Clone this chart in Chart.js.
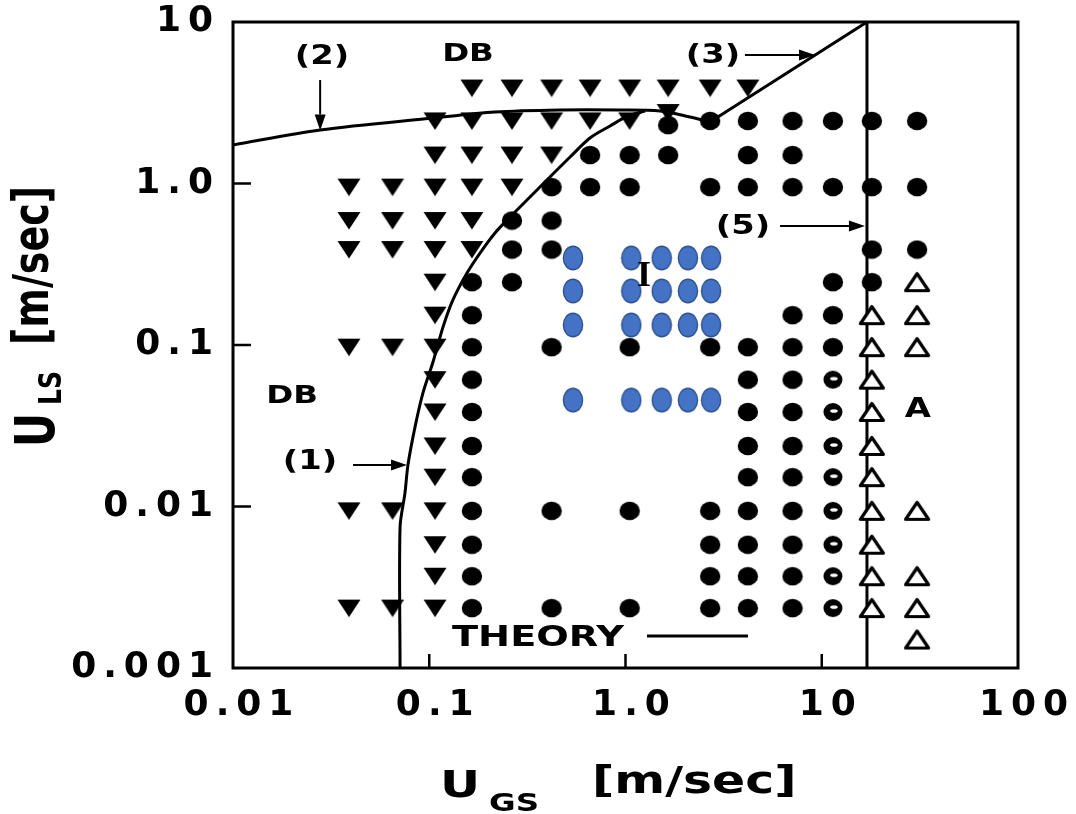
<!DOCTYPE html>
<html>
<head>
<meta charset="utf-8">
<script src="https://cdn.jsdelivr.net/npm/chart.js@4.4.0/dist/chart.umd.min.js"></script>
<style>
  html, body { margin: 0; padding: 0; background: #fff; }
  #wrap { width: 1076px; height: 814px; }
</style>
</head>
<body>
<div id="wrap"><canvas id="map" width="1076" height="814"></canvas></div>
<script>
// ---- Axis ticks ----
const xTickValues = [0.01, 0.1, 1, 10, 100];
const xTickLabels = ['0.01', '0.1', '1.0', '10', '100'];
const yTickValues = [0.001, 0.01, 0.1, 1, 10];
const yTickLabels = ['0.001', '0.01', '0.1', '1.0', '10'];

// ---- Observed flow patterns [U_GS, U_LS] in m/sec ----
// Dispersed bubble (filled, pointing down)
const dispersedBubble = [
  [0.039, 0.95], [0.039, 0.59], [0.039, 0.39], [0.039, 0.097], [0.039, 0.0094], [0.039, 0.00235],
  [0.065, 0.95], [0.065, 0.59], [0.065, 0.39], [0.065, 0.097], [0.065, 0.0094], [0.065, 0.00235],
  [0.107, 2.44], [0.107, 1.5], [0.107, 0.95], [0.107, 0.59], [0.107, 0.39], [0.107, 0.245],
  [0.107, 0.153], [0.107, 0.097], [0.107, 0.061], [0.107, 0.0385], [0.107, 0.0237], [0.107, 0.0152],
  [0.107, 0.0094], [0.107, 0.0058], [0.107, 0.0037], [0.107, 0.00235],
  [0.165, 3.9], [0.165, 2.44], [0.165, 1.5], [0.165, 0.95], [0.165, 0.59], [0.165, 0.39],
  [0.264, 3.9], [0.264, 2.44], [0.264, 1.5], [0.264, 0.95],
  [0.42, 3.9], [0.42, 2.44], [0.42, 1.5],
  [0.66, 3.9], [0.66, 2.44],
  [1.05, 3.9], [1.05, 2.44],
  [1.65, 3.9], [1.65, 2.75],
  [2.7, 3.9], [4.2, 3.9]
];
// Slug / churn (filled circles)
const slugChurn = [
  [0.165, 0.245], [0.165, 0.153], [0.165, 0.097], [0.165, 0.061], [0.165, 0.0385], [0.165, 0.0237],
  [0.165, 0.0152], [0.165, 0.0094], [0.165, 0.0058], [0.165, 0.0037], [0.165, 0.00235],
  [0.264, 0.59], [0.264, 0.39], [0.264, 0.245],
  [0.42, 0.95], [0.42, 0.59], [0.42, 0.39], [0.42, 0.097], [0.42, 0.0094], [0.42, 0.00235],
  [0.66, 1.5], [0.66, 0.95],
  [1.05, 1.5], [1.05, 0.95], [1.05, 0.097], [1.05, 0.0094], [1.05, 0.00235],
  [1.65, 2.3], [1.65, 1.5],
  [2.7, 2.44], [2.7, 0.95], [2.7, 0.097], [2.7, 0.0094], [2.7, 0.0058], [2.7, 0.0037], [2.7, 0.00235],
  [4.2, 2.44], [4.2, 1.5], [4.2, 0.95], [4.2, 0.097], [4.2, 0.061], [4.2, 0.0385], [4.2, 0.0237],
  [4.2, 0.0152], [4.2, 0.0094], [4.2, 0.0058], [4.2, 0.0037], [4.2, 0.00235],
  [7.1, 2.44], [7.1, 1.5], [7.1, 0.95], [7.1, 0.153], [7.1, 0.097], [7.1, 0.061], [7.1, 0.0385],
  [7.1, 0.0237], [7.1, 0.0152], [7.1, 0.0094], [7.1, 0.0058], [7.1, 0.0037], [7.1, 0.00235],
  [11.4, 2.44], [11.4, 0.95], [11.4, 0.245], [11.4, 0.153], [11.4, 0.097],
  [18, 2.44], [18, 0.95], [18, 0.39], [18, 0.245],
  [30.6, 2.44], [30.6, 0.95], [30.6, 0.39]
];
// Transitional (partly filled circles)
const transitional = [
  [11.4, 0.061], [11.4, 0.0385], [11.4, 0.0237], [11.4, 0.0152],
  [11.4, 0.0094], [11.4, 0.0058], [11.4, 0.0037], [11.4, 0.00235]
];
// Annular (open triangles)
const annular = [
  [18, 0.153], [18, 0.097], [18, 0.061], [18, 0.0385], [18, 0.0237], [18, 0.0152],
  [18, 0.0094], [18, 0.0058], [18, 0.0037], [18, 0.00235],
  [30.6, 0.245], [30.6, 0.153], [30.6, 0.097], [30.6, 0.0094], [30.6, 0.0037], [30.6, 0.00235], [30.6, 0.0015]
];
// Intermittent runs (blue)
const intermittent = [
  [0.54, 0.346], [1.07, 0.346], [1.53, 0.346], [2.08, 0.346], [2.73, 0.346],
  [0.54, 0.216], [1.07, 0.216], [1.53, 0.216], [2.08, 0.216], [2.73, 0.216],
  [0.54, 0.133], [1.07, 0.133], [1.53, 0.133], [2.08, 0.133], [2.73, 0.133],
  [0.54, 0.0456], [1.07, 0.0456], [1.53, 0.0456], [2.08, 0.0456], [2.73, 0.0456]
];

// ---- Theoretical transition boundaries ----
const boundary1 = [
  [0.071, 0.001], [0.071, 0.00746], [0.0752, 0.0121], [0.0779, 0.0181], [0.0846, 0.031],
  [0.0929, 0.0505], [0.1045, 0.0785], [0.1175, 0.129], [0.132, 0.19], [0.1557, 0.279],
  [0.1814, 0.371], [0.2163, 0.494], [0.258, 0.62], [0.326, 0.825], [0.412, 1.097],
  [0.522, 1.459], [0.659, 1.913], [0.834, 2.27], [1.03, 2.62], [1.257, 2.81]
];
const boundary2 = [
  [0.01, 1.731], [0.0278, 2.145], [0.1045, 2.544], [0.2163, 2.771], [0.4637, 2.852],
  [0.9376, 2.852], [1.499, 2.81], [2.132, 2.58], [2.695, 2.403]
];
const boundary3 = [[2.695, 2.403], [17.0, 10]];
const boundary5 = [[17.0, 10], [17.0, 0.001]];

// ---- Labels placed in data space ----
const labelNotes = [
  { text: '(2)', x: 0.0284, y: 6.07, size: 26 },
  { text: 'DB', x: 0.1576, y: 6.25, size: 25 },
  { text: '(3)', x: 2.79, y: 6.16, size: 26 },
  { text: '(5)', x: 3.97, y: 0.538, size: 26 },
  { text: '(1)', x: 0.0247, y: 0.0189, size: 26 },
  { text: 'DB', x: 0.02, y: 0.0477, size: 25 },
  { text: 'A', x: 30.9, y: 0.0396, size: 26 }
];
const arrowNotes = [
  { from: [0.0278, 4.37], to: [0.0278, 2.13] },
  { from: [4.06, 6.25], to: [9.24, 6.25] },
  { from: [6.13, 0.546], to: [16.6, 0.546] },
  { from: [0.0409, 0.0181], to: [0.077, 0.0181] }
];
const theoryKey = { text: 'THEORY', x: 0.1306, y: 0.00153, lineFrom: 1.287, lineTo: 4.21, lineY: 0.00158 };
const regimeMark = { text: 'I', x: 1.243, y: 0.2636 };

// ---- Marker images ----
function markerCanvas(w, h, paint) {
  const c = document.createElement('canvas');
  c.width = w; c.height = h;
  paint(c.getContext('2d'), w, h);
  return c;
}
const downTriangle = markerCanvas(24, 19, (g, w, h) => {
  g.fillStyle = '#000';
  g.beginPath(); g.moveTo(0.5, 1); g.lineTo(w - 0.5, 1); g.lineTo(w / 2, h - 0.5); g.closePath(); g.fill();
});
const fullDot = markerCanvas(22, 20, (g, w, h) => {
  g.fillStyle = '#000';
  g.beginPath(); g.ellipse(w / 2, h / 2, 10.2, 9.2, 0, 0, Math.PI * 2); g.fill();
});
const partDot = markerCanvas(22, 20, (g, w, h) => {
  g.fillStyle = '#000';
  g.beginPath(); g.ellipse(w / 2, h / 2, 9.5, 9, 0, 0, Math.PI * 2); g.fill();
  g.fillStyle = '#fff';
  g.beginPath(); g.ellipse(w / 2 + 1, h / 2 - 1, 3.8, 1.8, 0, 0, Math.PI * 2); g.fill();
});
const openTriangle = markerCanvas(28, 22, (g, w, h) => {
  g.strokeStyle = '#000'; g.fillStyle = '#fff'; g.lineWidth = 3.2; g.lineJoin = 'round';
  g.beginPath(); g.moveTo(w / 2, 2.5); g.lineTo(w - 2.5, h - 2.5); g.lineTo(2.5, h - 2.5); g.closePath();
  g.fill(); g.stroke();
});
const blueOval = markerCanvas(22, 26, (g, w, h) => {
  g.fillStyle = '#4472C4'; g.strokeStyle = '#2F528F'; g.lineWidth = 1.4;
  g.beginPath(); g.ellipse(w / 2, h / 2, 9.6, 11.8, 0, 0, Math.PI * 2); g.fill(); g.stroke();
});

const FONT = '"DejaVu Sans", sans-serif';
const toXY = arr => arr.map(([x, y]) => ({ x, y }));

function pointSet(label, data, img) {
  return { label, data: toXY(data), pointStyle: img, pointRadius: 10, pointHoverRadius: 10, showLine: false };
}
function lineSet(label, data, tension) {
  return { label, data: toXY(data), showLine: true, pointRadius: 0, borderColor: '#000', borderWidth: 3, tension, fill: false };
}

function drawText(ctx, str, x, y, o) {
  ctx.save();
  ctx.translate(x, y);
  ctx.scale(o.stretch || 1, 1);
  if (o.rotate) ctx.rotate(o.rotate);
  ctx.font = (o.weight || 'bold') + ' ' + o.size + 'px ' + (o.family || FONT);
  ctx.textAlign = o.align || 'center';
  ctx.textBaseline = o.baseline || 'middle';
  ctx.fillStyle = '#000';
  ctx.fillText(str, 0, 0);
  ctx.restore();
}
function drawArrow(ctx, x0, y0, x1, y1) {
  const ang = Math.atan2(y1 - y0, x1 - x0), len = 16, half = 5.5;
  const bx = x1 - Math.cos(ang) * len, by = y1 - Math.sin(ang) * len;
  ctx.save();
  ctx.strokeStyle = '#000'; ctx.fillStyle = '#000'; ctx.lineWidth = 2;
  ctx.beginPath(); ctx.moveTo(x0, y0); ctx.lineTo(bx, by); ctx.stroke();
  ctx.beginPath();
  ctx.moveTo(x1, y1);
  ctx.lineTo(bx + Math.sin(ang) * half, by - Math.cos(ang) * half);
  ctx.lineTo(bx - Math.sin(ang) * half, by + Math.cos(ang) * half);
  ctx.closePath(); ctx.fill();
  ctx.restore();
}

// Wide tick lettering while the axes paint, plain afterwards
const tickSpacing = {
  id: 'tickSpacing',
  beforeDraw(chart) { chart.ctx.letterSpacing = '7px'; },
  beforeDatasetsDraw(chart) { chart.ctx.letterSpacing = '0px'; }
};

// Frame, inward tick marks, titles and notes
const decorations = {
  id: 'decorations',
  afterDraw(chart) {
    const ctx = chart.ctx, a = chart.chartArea, sx = chart.scales.x, sy = chart.scales.y;
    const px = v => sx.getPixelForValue(v), py = v => sy.getPixelForValue(v);
    ctx.save();
    ctx.letterSpacing = '0px';
    ctx.strokeStyle = '#000';
    ctx.lineWidth = 3;
    ctx.strokeRect(a.left, a.top, a.right - a.left, a.bottom - a.top);
    ctx.lineWidth = 2.5;
    xTickValues.slice(1, -1).forEach(v => {
      ctx.beginPath(); ctx.moveTo(px(v), a.bottom); ctx.lineTo(px(v), a.bottom - 14); ctx.stroke();
    });
    yTickValues.slice(1, -1).forEach(v => {
      ctx.beginPath(); ctx.moveTo(a.left, py(v)); ctx.lineTo(a.left + 18, py(v)); ctx.stroke();
    });

    labelNotes.forEach(n => drawText(ctx, n.text, px(n.x), py(n.y), { size: n.size, stretch: 1.3 }));
    arrowNotes.forEach(n => drawArrow(ctx, px(n.from[0]), py(n.from[1]), px(n.to[0]), py(n.to[1])));

    drawText(ctx, theoryKey.text, px(theoryKey.x), py(theoryKey.y), { size: 29, stretch: 1.32, align: 'left' });
    ctx.lineWidth = 3;
    ctx.beginPath();
    ctx.moveTo(px(theoryKey.lineFrom), py(theoryKey.lineY));
    ctx.lineTo(px(theoryKey.lineTo), py(theoryKey.lineY));
    ctx.stroke();

    drawText(ctx, regimeMark.text, px(regimeMark.x), py(regimeMark.y),
      { size: 36, family: '"Liberation Serif", serif', weight: 'bold' });

    // horizontal axis title
    drawText(ctx, 'U', 440, 797, { size: 38, stretch: 1.3, align: 'left', baseline: 'alphabetic' });
    drawText(ctx, 'GS', 489, 811, { size: 25, stretch: 1.3, align: 'left', baseline: 'alphabetic' });
    drawText(ctx, '[m/sec]', 592, 793, { size: 37, stretch: 1.32, align: 'left', baseline: 'alphabetic' });

    // vertical axis title
    const rot = -Math.PI / 2;
    drawText(ctx, 'U', 54, 447, { size: 42, stretch: 1.3, rotate: rot, align: 'left', baseline: 'alphabetic' });
    drawText(ctx, 'LS', 61, 405, { size: 25, stretch: 1.3, rotate: rot, align: 'left', baseline: 'alphabetic' });
    drawText(ctx, '[m/sec]', 48, 345, { size: 38, stretch: 1.3, rotate: rot, align: 'left', baseline: 'alphabetic' });
    ctx.restore();
  }
};

const tickFont = { family: FONT, size: 36, weight: 'bold' };

new Chart(document.getElementById('map'), {
  type: 'scatter',
  data: {
    datasets: [
      pointSet('Intermittent', intermittent, blueOval),
      pointSet('Dispersed bubble', dispersedBubble, downTriangle),
      pointSet('Slug / churn', slugChurn, fullDot),
      pointSet('Transition', transitional, partDot),
      pointSet('Annular', annular, openTriangle),
      lineSet('(1)', boundary1, 0.3),
      lineSet('(2)', boundary2, 0.3),
      lineSet('(3)', boundary3, 0),
      lineSet('(5)', boundary5, 0)
    ]
  },
  options: {
    responsive: false,
    devicePixelRatio: 1,
    animation: false,
    events: [],
    layout: { padding: { top: 22, right: 58, left: 0, bottom: 0 } },
    plugins: { legend: { display: false }, tooltip: { enabled: false } },
    scales: {
      x: {
        type: 'logarithmic', position: 'bottom', min: 0.01, max: 100,
        grid: { display: false, drawTicks: false },
        border: { display: false },
        afterBuildTicks: s => { s.ticks = xTickValues.map(v => ({ value: v })); },
        afterFit: s => { s.height = 146; s.paddingLeft = 0; s.paddingRight = 0; },
        ticks: {
          autoSkip: false, maxRotation: 0, minRotation: 0, padding: 16, labelOffset: 9,
          color: '#000', font: tickFont,
          callback: (v, i) => xTickLabels[i]
        }
      },
      y: {
        type: 'logarithmic', position: 'left', min: 0.001, max: 10,
        grid: { display: false, drawTicks: false },
        border: { display: false },
        afterBuildTicks: s => { s.ticks = yTickValues.map(v => ({ value: v })); },
        afterFit: s => { s.width = 233; s.paddingTop = 0; s.paddingBottom = 0; },
        ticks: {
          autoSkip: false, padding: 13,
          color: '#000', font: tickFont,
          callback: (v, i) => yTickLabels[i]
        }
      }
    }
  },
  plugins: [tickSpacing, decorations]
});
</script>
</body>
</html>
